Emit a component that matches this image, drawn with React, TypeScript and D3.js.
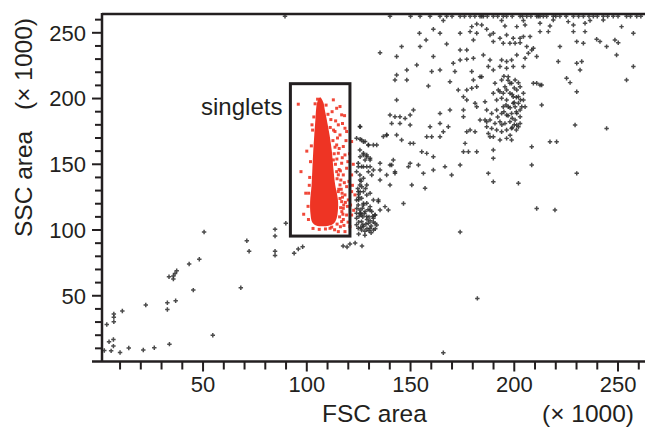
import React, { useRef, useEffect } from "react";
import * as d3 from "d3";

type Pt = [number, number];

const W = 645;
const H = 429;

// axis ranges (x 1000)
const fscDomain = [1.3, 263];
const sscDomain = [0, 264.3];
const fscMajor = [50, 100, 150, 200, 250];
const sscMajor = [50, 100, 150, 200, 250];
const fscMinor = [10, 20, 30, 40, 60, 70, 80, 90, 110, 120, 130, 140, 160, 170, 180, 190, 210, 220, 230, 240, 260];
const sscMinor = [10, 20, 30, 40, 60, 70, 80, 90, 110, 120, 130, 140, 160, 170, 180, 190, 210, 220, 230, 240, 260];

// singlets gate
const gateName = "singlets";
const gateFsc = [92.1, 120.8];
const gateSsc = [95.4, 211.3];

// dense core of the gated population (outline of the solid red area)
const singletCore: Pt[] = [
  [106.4, 201], [105, 197], [104.5, 192], [104.2, 185], [103.6, 172], [103.1, 159.5],
  [102.7, 147], [102.3, 134], [101.6, 121.5], [101.8, 112], [102.6, 106], [104.5, 103.5],
  [107.5, 102.8], [110.5, 103.3], [113, 105], [114.4, 109], [115, 115], [115.1, 121.5],
  [114.5, 128], [113.7, 134.2], [112.8, 147], [112.1, 159.5], [111, 172], [109.5, 185],
  [108.6, 192], [108, 197],
];

// gated events lying outside the solid core
const singletEvents: Pt[] = [
  [112.8, 199.0], [114.4, 192.6], [116.0, 193.9], [116.8, 187.6], [115.2, 180.0], [118.4, 177.4],
  [113.6, 174.9], [116.0, 172.3], [119.2, 174.9], [114.4, 164.7], [117.6, 163.5], [115.2, 158.4],
  [118.4, 157.1], [112.8, 153.3], [116.8, 150.8], [119.2, 147.0], [114.4, 144.4], [117.6, 141.9],
  [116.0, 134.3], [119.2, 133.0], [115.2, 129.2], [118.4, 126.7], [116.8, 121.6], [120.0, 122.9],
  [117.6, 116.5], [119.2, 111.4], [116.8, 106.4], [120.8, 102.6], [111.2, 101.3], [115.2, 98.8],
  [118.4, 98.8], [121.6, 167.3], [121.6, 141.9], [121.6, 129.2], [121.6, 111.4], [123.2, 126.7],
  [110.2, 188], [111.3, 178], [112.6, 168], [113.2, 158], [113.8, 150], [114.6, 139], [115.4, 131],
  [116, 124], [116.3, 117], [115.8, 110], [114.6, 104.5], [112, 102.2], [109.3, 195], [104, 196],
  [103.4, 186], [102.8, 176], [102.2, 164], [101.8, 152], [101.4, 140], [100.9, 128], [100.6, 118],
  [100.8, 108], [103, 101.2], [106, 100.5], [109, 100.8], [95.9, 195.7], [97.2, 144.4], [100, 160],
  [99.5, 128], [98.5, 112], [113.9, 183], [114.8, 170], [115.6, 146], [116.4, 138], [117, 128],
  [117.4, 112], [112.2, 190], [117.2, 181], [118.9, 168], [119.8, 152], [120.3, 137], [119.6, 118],
  [117.9, 103.5], [115.6, 162], [117.1, 155], [116.2, 145], [118.1, 136], [118.6, 121], [117.6, 108],
  [119.9, 106], [121.1, 119], [120.6, 158], [118.2, 187], [111.6, 184], [112.9, 176], [113.6, 163],
  [114.5, 154], [115.2, 142], [116.6, 131], [117.2, 125], [117.8, 119], [116.9, 114], [116.2, 102.5],
  [113.4, 100.2], [122.4, 150], [122.0, 134], [122.6, 115], [105.2, 199.5], [102.5, 180], [101.2, 134],
];

// all other events (black)
const otherEvents: Pt[] = [
  // low debris
  [50.5, 98.5], [71.1, 91.9], [72.2, 83.8], [84.7, 100.5], [84.7, 95.4], [84.7, 83.8], [84.7, 80.7],
  [89.9, 105.1], [93.9, 82.3], [95.9, 85.5], [98.0, 87.3], [48.2, 77.7], [43.3, 74.1], [37.3, 69.0],
  [36.5, 67.0], [35.7, 65.0], [33.6, 64.5], [35.7, 62.7], [45.3, 54.3], [68.2, 56.1], [32.8, 44.7],
  [32.8, 39.6], [36.8, 46.2], [22.4, 42.9], [11.1, 38.4], [7.0, 36.1], [7.0, 33.6], [7.0, 30.2],
  [3.6, 28.2], [54.7, 19.9], [33.8, 13.2], [26.5, 10.4], [21.2, 8.7], [14.2, 10.2], [10.0, 6.9],
  [6.8, 11.7], [6.8, 16.8], [4.7, 15.0], [5.7, 8.1], [2.4, 8.4], [173.9, 98.5], [182.2, 48.0],
  [165.8, 6.6], [117.5, 87.8], [120.8, 89.3], [123.3, 90.1], [126.6, 87.8], [119.4, 87.1],
  // doublets next to the gate
  [125.6, 178.7], [126.4, 168.5], [124.0, 169.8], [128.1, 167.3], [129.7, 164.7], [125.6, 160.9],
  [127.3, 158.4], [128.9, 157.1], [130.5, 154.6], [128.1, 153.3], [124.8, 150.8], [126.4, 148.2],
  [128.9, 148.2], [129.7, 144.4], [124.0, 144.4], [125.6, 141.9], [127.3, 139.4], [131.3, 141.9],
  [125.6, 134.3], [124.8, 129.2], [127.3, 129.2], [128.9, 126.7], [126.4, 124.1], [124.0, 122.9],
  [124.8, 119.1], [127.3, 119.1], [128.9, 120.3], [130.5, 117.8], [125.6, 115.3], [128.1, 114.0],
  [131.3, 114.0], [126.4, 111.4], [124.0, 108.9], [128.9, 110.2], [132.1, 108.9], [126.4, 106.4],
  [129.7, 105.1], [132.9, 105.1], [127.3, 102.6], [130.5, 101.3], [126.4, 100.0], [132.1, 100.0],
  [133.7, 103.8], [124.8, 101.3], [124.0, 112.7], [132.9, 111.4], [135.3, 115.3], [137.7, 117.8],
  [134.5, 121.6], [135.3, 138.1], [138.5, 141.9], [140.1, 134.3], [142.5, 144.4], [135.3, 150.8],
  [133.7, 164.7], [136.9, 171.1], [138.5, 172.3], [127, 104], [129, 108], [131, 103], [125, 106],
  [128, 99], [130, 110], [126, 113], [132, 106], [129, 101], [127, 110], [124, 104], [131, 98],
  [128, 96], [125, 97], [133, 101], [125, 123], [125, 125], [125, 127], [126, 102], [128.5, 104.5],
  [130.5, 107], [127.8, 112.5], [129.5, 115.5], [125.2, 110.5], [131.8, 110.5], [130, 99.5],
  [126.8, 116.5], [124.6, 131.5], [126.2, 137], [128.3, 131.5],
  // diagonal band
  [125.7, 178.6], [125.7, 169.0], [127.3, 167.2], [129.7, 164.6], [132.1, 164.6], [125.7, 155.8],
  [127.3, 157.0], [128.9, 155.8], [130.5, 153.2], [124.9, 148.2], [127.3, 148.2], [130.5, 148.2],
  [132.1, 145.6], [125.7, 138.0], [126.5, 132.9], [125.7, 129.1], [128.9, 134.2], [130.5, 127.9],
  [132.1, 122.8], [127.3, 120.2], [124.1, 116.4], [125.7, 112.6], [130.5, 115.2], [132.9, 111.4],
  [134.5, 122.8], [135.3, 145.6], [140.1, 149.4], [141.7, 153.2], [142.5, 143.1], [140.9, 149.4],
  [149.8, 150.7], [153.8, 149.4], [149.0, 148.2], [150.6, 134.2], [146.6, 120.2], [139.3, 115.2],
  [157.0, 131.7], [161.0, 145.6], [156.2, 143.1], [166.6, 148.2], [169.8, 141.8], [173.9, 149.4],
  [177.9, 159.6], [189.9, 136.7], [187.5, 143.1], [202.0, 135.5], [208.4, 163.4], [208.4, 149.4],
  [210.8, 116.4], [219.6, 115.2], [217.2, 167.2], [230.1, 143.1], [229.3, 179.9], [244.5, 177.3],
  [213.2, 195.1], [212.4, 210.3], [209.2, 211.6], [220.4, 167.2],
  [143.3, 198.9], [140.1, 187.5], [142.5, 186.2], [144.9, 186.2], [147.4, 184.9], [149.8, 187.5],
  [151.4, 191.3], [140.9, 181.1], [144.9, 181.1], [149.8, 179.9], [138.5, 172.3], [143.3, 172.3],
  [145.7, 168.4], [149.8, 165.9], [151.4, 165.9], [157.8, 171.0], [155.4, 159.6], [157.8, 158.3],
  [161.0, 155.8], [159.4, 178.6], [164.2, 181.1], [165.8, 174.8], [168.2, 178.6], [164.2, 171.0],
  [160.2, 171.0], [164.2, 188.7], [169.0, 191.3], [175.5, 191.3], [175.5, 186.2], [177.1, 174.8],
  [181.1, 174.8], [176.3, 165.9], [175.5, 159.6], [181.9, 159.6], [178.7, 176.1], [186.7, 182.4],
  [188.3, 171.0], [189.9, 160.8], [189.9, 154.5], [185.9, 183.7], [175.5, 201.4], [177.1, 198.9],
  [181.1, 196.4], [181.9, 193.8], [185.9, 197.6], [186.7, 191.3], [183.5, 183.7],
  // large-cell cluster
  [190.7, 211.6], [192.3, 206.5], [193.9, 214.1], [195.5, 209.0], [197.1, 216.6], [198.7, 211.6],
  [200.4, 214.1], [201.2, 206.5], [202.8, 209.0], [202.0, 201.4], [199.5, 201.4], [197.9, 204.0],
  [196.3, 198.9], [193.9, 200.2], [191.5, 198.9], [189.9, 204.0], [194.7, 193.8], [197.1, 193.8],
  [199.5, 196.4], [202.0, 196.4], [203.6, 193.8], [201.2, 188.7], [198.7, 188.7], [196.3, 187.5],
  [193.9, 188.7], [191.5, 191.3], [189.1, 188.7], [188.3, 183.7], [190.7, 181.1], [193.1, 182.4],
  [195.5, 181.1], [197.9, 182.4], [200.4, 183.7], [202.8, 186.2], [202.0, 178.6], [198.7, 177.3],
  [196.3, 176.1], [193.9, 174.8], [191.5, 176.1], [189.1, 177.3], [186.7, 178.6], [187.5, 173.5],
  [189.9, 171.0], [193.1, 168.4], [196.3, 169.7], [198.7, 168.4], [201.2, 179.9], [202.8, 181.1],
  [204.4, 198.9], [204.4, 204.0], [205.2, 193.8], [202.8, 191.3], [200.4, 193.8], [197.9, 211.6],
  [196.3, 206.5], [194.7, 204.0], [193.1, 205.2], [199, 185], [201, 190], [200, 197], [198, 193],
  [200, 180], [203, 199], [197, 187], [199, 203], [201, 176], [198, 172], [195, 190], [196, 195],
  [192, 186], [194, 180], [200, 208], [197, 214], [195, 217], [202, 212], [199, 178], [201, 201],
  // upper scatter
  [148.2, 221.7], [160.2, 220.5], [164.2, 221.7], [171.4, 220.5], [179.5, 220.5], [183.5, 216.6],
  [187.5, 224.3], [189.9, 221.7], [193.1, 224.3], [196.3, 223.0], [199.5, 224.3], [204.4, 224.3],
  [231.7, 221.7], [225.2, 215.4], [226.9, 212.1], [254.1, 214.1], [143.3, 217.9], [142.5, 214.1],
  [148.2, 214.1], [158.6, 209.5], [169.0, 212.8], [173.0, 206.5], [177.1, 206.5], [180.3, 214.1],
  [184.3, 216.6], [181.9, 209.0], [210.8, 211.6], [213.2, 210.3], [230.1, 205.2], [179.5, 207.8],
  [135.3, 234.9], [143.3, 231.9], [153.0, 225.5], [161.0, 231.9], [170.6, 226.8], [173.9, 229.3],
  [177.1, 229.8], [180.3, 230.6], [185.1, 233.1], [188.3, 229.3], [193.9, 229.3], [196.3, 228.1],
  [198.7, 229.3], [201.2, 233.1], [205.2, 230.6], [206.8, 234.4], [208.4, 236.9], [221.2, 228.1],
  [230.1, 226.8], [232.5, 228.1], [257.4, 224.3],
  [154.3, 249.6], [157.5, 244.6], [154.6, 239.5], [145.7, 239.5], [167.4, 241.5], [173.9, 236.9],
  [177.1, 236.9], [180.3, 244.6], [188.3, 248.4], [189.9, 243.3], [193.1, 245.8], [194.7, 242.0],
  [197.9, 242.0], [200.4, 242.0], [202.8, 242.5], [206.0, 239.5], [209.2, 238.2], [210.8, 231.9],
  [230.1, 243.3], [233.3, 242.0], [239.7, 245.1], [241.3, 243.3], [244.5, 239.5], [248.5, 244.6],
  [250.1, 242.5], [249.3, 233.1], [222.0, 239.5],
  [161.0, 252.7], [164.2, 249.6], [173.9, 249.6], [178.7, 250.9], [181.9, 249.6], [186.7, 252.7],
  [189.9, 249.6], [196.3, 248.4], [199.5, 245.8], [202.8, 245.8], [204.4, 247.1], [207.6, 247.1],
  [212.4, 250.9], [216.4, 250.9], [228.5, 250.9], [234.1, 250.9], [257.4, 249.6],
  [165.8, 259.3], [179.5, 254.7], [181.9, 256.7], [184.3, 256.0], [193.9, 259.3], [195.5, 255.2],
  [201.2, 254.7], [204.4, 259.3], [205.2, 256.0], [212.4, 257.2], [217.2, 255.2], [218.8, 259.8],
  [226.0, 258.5], [228.5, 256.0], [234.1, 257.2], [236.5, 259.3], [242.9, 259.8], [251.7, 254.7],
  // events piled at the top of the scale
  [89.5, 262.5], [140.1, 262.5], [150, 262.5], [154.6, 262.5], [159.4, 262.5], [164.2, 262.5],
  [167.4, 262.5], [170, 262.5], [173.9, 262.5], [176, 262.5], [178.7, 262.5], [181, 262.5],
  [183.5, 262.5], [184.3, 262.5], [185.1, 262.5], [187, 262.5], [189.9, 262.5], [192, 262.5],
  [194.7, 262.5], [196.3, 262.5], [199, 262.5], [202.8, 262.5], [204, 262.5], [206.0, 262.5],
  [208, 262.5], [210.8, 262.5], [211.6, 262.5], [212.4, 262.5], [214, 262.5], [215.6, 262.5],
  [218.8, 262.5], [220, 262.5], [222.0, 262.5], [225, 262.5], [228.5, 262.5], [231, 262.5],
  [233.3, 262.5], [236, 262.5], [238.1, 262.5], [240, 262.5], [242.9, 262.5], [245, 262.5],
  [247.7, 262.5], [250, 262.5], [254.1, 262.5], [256, 262.5], [259.0, 262.5], [261, 262.5],
];

const FONT = "'Liberation Sans', Arial, Helvetica, sans-serif";
const INK = "#231f20";
const RED = "#ee3424";

const FlowPlot = () => {
  const ref = useRef<SVGSVGElement>(null);

  useEffect(() => {
    const svg = d3.select(ref.current);
    svg.selectAll("*").remove();

    const left = 102;
    const top = 14;
    const bottom = 361.5;

    const x = d3.scaleLinear().domain(fscDomain).range([left, W]);
    const y = d3.scaleLinear().domain(sscDomain).range([bottom, top]);

    const plot = svg.append("g");

    // black events
    const cross = d3.symbol().type(d3.symbolCross).size(11);
    plot
      .append("g")
      .selectAll("path")
      .data(otherEvents)
      .enter()
      .append("path")
      .attr("d", cross)
      .attr("transform", (d) => `translate(${x(d[0])},${y(d[1])})`)
      .attr("fill", "#2b2b2b")
      .attr("opacity", 0.85);

    // singlets: solid core + loose events
    const core = d3
      .line<Pt>()
      .x((d) => x(d[0]))
      .y((d) => y(d[1]))
      .curve(d3.curveCatmullRomClosed);
    plot.append("path").attr("d", core(singletCore)).attr("fill", RED);

    const dot = d3.symbol().type(d3.symbolSquare).size(9);
    plot
      .append("g")
      .selectAll("path")
      .data(singletEvents)
      .enter()
      .append("path")
      .attr("d", dot)
      .attr("transform", (d) => `translate(${x(d[0])},${y(d[1])})`)
      .attr("fill", RED)
      .attr("opacity", 0.9);

    // gate
    plot
      .append("rect")
      .attr("x", x(gateFsc[0]))
      .attr("y", y(gateSsc[1]))
      .attr("width", x(gateFsc[1]) - x(gateFsc[0]))
      .attr("height", y(gateSsc[0]) - y(gateSsc[1]))
      .attr("fill", "none")
      .attr("stroke", INK)
      .attr("stroke-width", 3);
    plot
      .append("text")
      .attr("x", x(gateFsc[0]) - 8)
      .attr("y", 114.5)
      .attr("text-anchor", "end")
      .attr("font-family", FONT)
      .attr("font-size", 24)
      .attr("fill", INK)
      .text(gateName);

    // frame
    const axes = svg.append("g").attr("stroke", INK).attr("fill", "none");
    axes.append("line").attr("x1", left).attr("x2", W).attr("y1", top).attr("y2", top).attr("stroke-width", 2.5);
    axes.append("line").attr("x1", left).attr("x2", left).attr("y1", top - 1).attr("y2", bottom).attr("stroke-width", 2.5);
    axes.append("line").attr("x1", left - 10).attr("x2", W).attr("y1", bottom).attr("y2", bottom).attr("stroke-width", 2.5);

    // x ticks
    axes
      .selectAll(".xminor")
      .data(fscMinor)
      .enter()
      .append("line")
      .attr("x1", (d) => x(d))
      .attr("x2", (d) => x(d))
      .attr("y1", bottom)
      .attr("y2", bottom + 8)
      .attr("stroke-width", 2);
    axes
      .selectAll(".xmajor")
      .data(fscMajor)
      .enter()
      .append("line")
      .attr("x1", (d) => x(d))
      .attr("x2", (d) => x(d))
      .attr("y1", bottom)
      .attr("y2", bottom + 10)
      .attr("stroke-width", 2);

    // y ticks
    axes
      .selectAll(".yminor")
      .data(sscMinor)
      .enter()
      .append("line")
      .attr("x1", left)
      .attr("x2", left - 7)
      .attr("y1", (d) => y(d))
      .attr("y2", (d) => y(d))
      .attr("stroke-width", 2);
    axes
      .selectAll(".ymajor")
      .data(sscMajor)
      .enter()
      .append("line")
      .attr("x1", left)
      .attr("x2", left - 10)
      .attr("y1", (d) => y(d))
      .attr("y2", (d) => y(d))
      .attr("stroke-width", 2);

    const labels = svg.append("g").attr("font-family", FONT).attr("fill", INK);
    labels
      .selectAll(".xl")
      .data(fscMajor)
      .enter()
      .append("text")
      .attr("x", (d) => x(d))
      .attr("y", 392)
      .attr("text-anchor", "middle")
      .attr("font-size", 22)
      .text((d) => d);
    labels
      .selectAll(".yl")
      .data(sscMajor)
      .enter()
      .append("text")
      .attr("x", 86)
      .attr("y", (d) => y(d))
      .attr("dy", "0.36em")
      .attr("text-anchor", "end")
      .attr("font-size", 22)
      .text((d) => d);

    labels.append("text").attr("x", 322).attr("y", 422).attr("font-size", 24.5).text("FSC area");
    labels.append("text").attr("x", 542).attr("y", 422).attr("font-size", 24.5).text("(× 1000)");
    labels
      .append("text")
      .attr("transform", "translate(31.5,237) rotate(-90)")
      .attr("font-size", 24.5)
      .text("SSC area");
    labels
      .append("text")
      .attr("transform", "translate(31.5,110) rotate(-90)")
      .attr("font-size", 24.5)
      .text("(× 1000)");
  }, []);

  return (
    <svg
      ref={ref}
      width={W}
      height={H}
      style={{ position: "absolute", left: 0, top: 0, display: "block", background: "#fff" }}
    />
  );
};

export default function App() {
  return <FlowPlot />;
}
